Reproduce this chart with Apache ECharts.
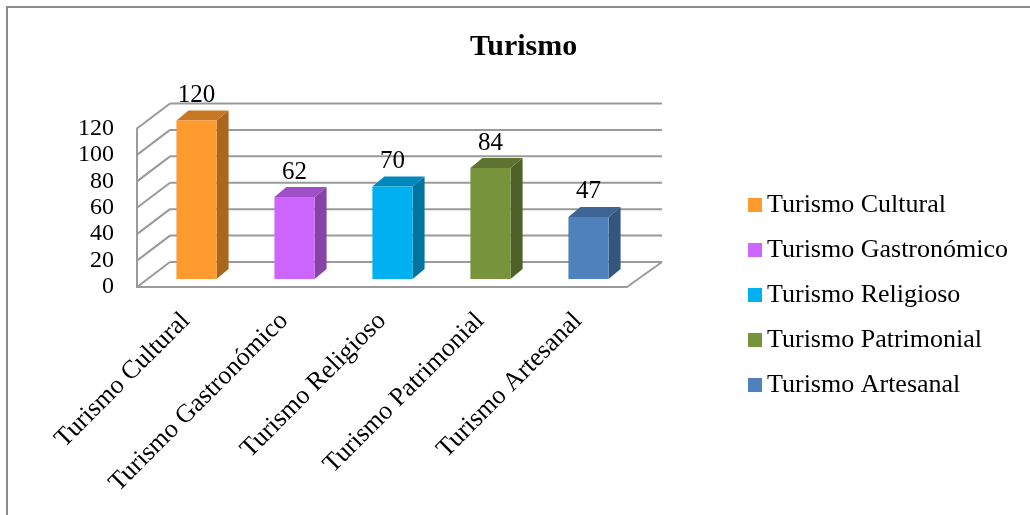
<!DOCTYPE html>
<html>
<head>
<meta charset="utf-8">
<title>Turismo</title>
<script src="https://cdn.jsdelivr.net/npm/echarts@6/dist/echarts.min.js"></script>
<style>
  html, body { margin: 0; padding: 0; background: #fff; }
  #chart { width: 1030px; height: 515px; }
</style>
</head>
<body>
<div id="chart"></div>
<script>
// Categories and their counts
const categories = ['Turismo Cultural', 'Turismo Gastronómico', 'Turismo Religioso', 'Turismo Patrimonial', 'Turismo Artesanal'];
const values = [120, 62, 70, 84, 47];
const yTicks = [0, 20, 40, 60, 80, 100, 120];
const barColors = ['#FF9A2E', '#CC66FF', '#00B0F0', '#77933C', '#4F81BD'];

// Pseudo-3D geometry (pixel offsets for depth)
const WALL_DX = 33, WALL_DY = -25;   // front plane -> back wall
const BAR_DX = 12, BAR_DY = -10;     // bar depth
const GRID_COLOR = '#9a9a9a';
const FONT = '"Liberation Serif", "Times New Roman", serif';

function shade(hex, k) {
  const n = parseInt(hex.slice(1), 16);
  const r = Math.round(((n >> 16) & 255) * k);
  const g = Math.round(((n >> 8) & 255) * k);
  const b = Math.round((n & 255) * k);
  return 'rgb(' + r + ',' + g + ',' + b + ')';
}

// Back wall gridlines, side-wall diagonals and floor edge
function renderWalls(params, api) {
  const cs = params.coordSys;
  const v = api.value(1);
  const yv = api.coord([0, v])[1];
  const x0 = cs.x, x1 = cs.x + cs.width;
  const style = { stroke: GRID_COLOR, lineWidth: 2 };
  const children = [
    { type: 'line', shape: { x1: x0, y1: yv, x2: x0 + WALL_DX, y2: yv + WALL_DY }, style: style },
    { type: 'line', shape: { x1: x0 + WALL_DX, y1: yv + WALL_DY, x2: x1 + WALL_DX + 2, y2: yv + WALL_DY }, style: style }
  ];
  if (v === 0) {
    children.push({ type: 'line', shape: { x1: x1, y1: yv, x2: x1 + WALL_DX + 2, y2: yv + WALL_DY }, style: style });
  }
  return { type: 'group', children: children };
}

// A box-shaped bar with its value label
function renderBar(params, api) {
  const cat = api.value(0), val = api.value(1);
  const top = api.coord([cat, val]);
  const base = api.coord([cat, 0]);
  const w = api.size([1, 0])[0] * 0.41;
  const x = top[0] - w / 2, y = top[1], h = base[1] - top[1];
  const color = api.visual('color');
  return {
    type: 'group',
    children: [
      { type: 'polygon', shape: { points: [[x + w, y], [x + w + BAR_DX, y + BAR_DY], [x + w + BAR_DX, base[1] + BAR_DY], [x + w, base[1]]] },
        style: { fill: shade(color, 0.66) } },
      { type: 'polygon', shape: { points: [[x, y], [x + w, y], [x + w + BAR_DX, y + BAR_DY], [x + BAR_DX, y + BAR_DY]] },
        style: { fill: shade(color, 0.78) } },
      { type: 'rect', shape: { x: x, y: y, width: w, height: h }, style: { fill: color } },
      { type: 'text', style: { text: String(val), x: top[0], y: y - 25, align: 'center', verticalAlign: 'middle',
        fontSize: 25, fontFamily: FONT, fill: '#000' } }
    ]
  };
}

const barSeries = categories.map(function (name, i) {
  return {
    name: name,
    type: 'custom',
    xAxisIndex: 1,
    yAxisIndex: 1,
    itemStyle: { color: barColors[i] },
    renderItem: renderBar,
    data: [[i, values[i]]],
    z: 3
  };
});

const chart = echarts.init(document.getElementById('chart'));
chart.setOption({
  backgroundColor: '#fff',
  animation: false,
  title: {
    text: 'Turismo',
    left: 465,
    top: 27,
    textStyle: { fontFamily: FONT, fontWeight: 'bold', fontSize: 30, color: '#000' }
  },
  legend: {
    orient: 'vertical',
    left: 743,
    top: 187,
    itemWidth: 14,
    itemHeight: 14,
    itemGap: 19,
    icon: 'rect',
    data: categories,
    textStyle: { fontFamily: FONT, fontSize: 26, lineHeight: 26, color: '#000' }
  },
  grid: [
    { left: 137, top: 128.5, width: 490, height: 158.5, outerBoundsMode: 'none' },
    { left: 147.5, top: 120.5, width: 490, height: 158.5, outerBoundsMode: 'none' }
  ],
  xAxis: [
    { type: 'category', gridIndex: 0, data: categories,
      axisLine: { show: true, lineStyle: { color: GRID_COLOR, width: 2 } },
      axisTick: { show: false }, splitLine: { show: false },
      axisLabel: { interval: 0, rotate: 45, margin: 30, fontSize: 26, fontFamily: FONT, color: '#000' } },
    { type: 'category', gridIndex: 1, data: categories, show: false,
      axisLine: { show: false }, axisTick: { show: false }, splitLine: { show: false }, axisLabel: { show: false } }
  ],
  yAxis: [
    { type: 'value', gridIndex: 0, min: 0, max: 120, interval: 20,
      axisLine: { show: true, lineStyle: { color: GRID_COLOR, width: 2 } },
      axisTick: { show: false }, splitLine: { show: false },
      axisLabel: { margin: 23, fontSize: 24, fontFamily: FONT, color: '#000' } },
    { type: 'value', gridIndex: 1, min: 0, max: 120, interval: 20, show: false, splitLine: { show: false } }
  ],
  graphic: [
    { type: 'rect', shape: { x: 7, y: 7, width: 1040, height: 530 }, style: { fill: 'none', stroke: '#8c8c8c', lineWidth: 2 }, silent: true }
  ],
  series: [
    {
      name: 'walls',
      type: 'custom',
      xAxisIndex: 0,
      yAxisIndex: 0,
      renderItem: renderWalls,
      data: yTicks.map(function (t) { return [0, t]; }),
      silent: true,
      z: 1
    }
  ].concat(barSeries)
});
</script>
</body>
</html>
